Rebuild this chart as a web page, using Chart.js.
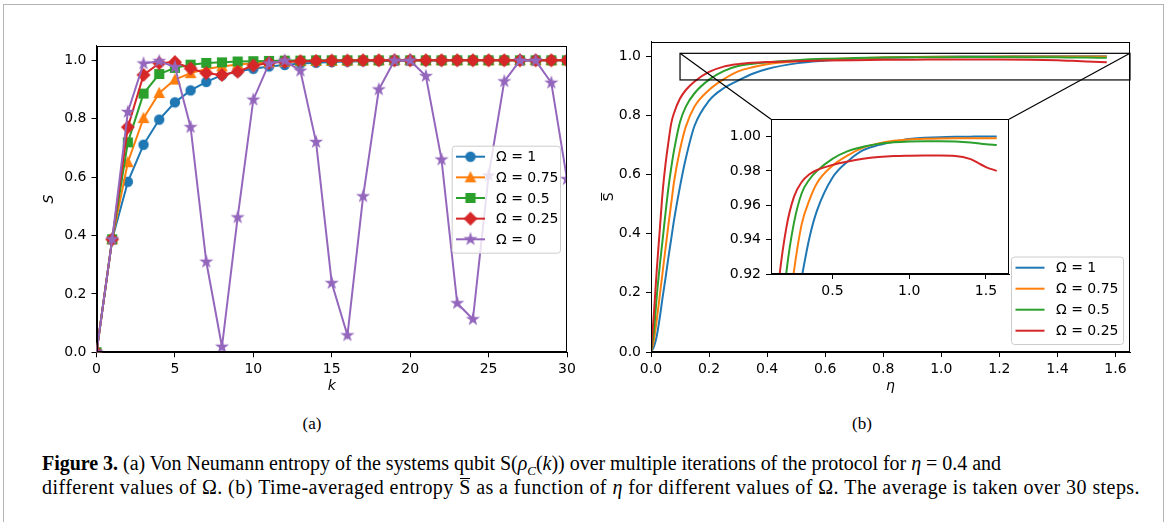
<!DOCTYPE html>
<html>
<head>
<meta charset="utf-8">
<script src="https://cdn.jsdelivr.net/npm/chart.js@4.4.1/dist/chart.umd.min.js"></script>
<style>
  html, body { margin: 0; padding: 0; background: #fff; }
  body { width: 1167px; height: 522px; position: relative; overflow: hidden; }
  #frame { position: absolute; left: 3px; top: 4px; width: 1159px; height: 560px; border: 1px solid #b4b4b4; }
  canvas { position: absolute; }
  #chartA { left: 30px; top: 30px; }
  #chartB { left: 600px; top: 20px; }
  #inset { left: 700px; top: 100px; }
  .sub { position: absolute; top: 414px; width: 40px; text-align: center; font-family: "Liberation Serif", serif; font-size: 17px; line-height: 20px; }
  .cap { position: absolute; left: 42px; font-family: "Liberation Serif", serif; font-size: 20px; line-height: 22px; white-space: nowrap; }
  .bar { position: relative; }
  .bar::before { content: ""; position: absolute; left: 1px; right: 1px; top: 2px; border-top: 1px solid #000; }
</style>
</head>
<body>
<div id="frame"></div>
<canvas id="chartA" width="560" height="380"></canvas>
<canvas id="chartB" width="560" height="390"></canvas>
<canvas id="inset" width="330" height="200"></canvas>
<div class="sub" style="left:292px">(a)</div>
<div class="sub" style="left:842px">(b)</div>
<div class="cap" id="cap1" style="top:452px"><b>Figure 3.</b> (a) Von Neumann entropy of the systems qubit S(<i>ρ</i><sub style="font-size:13px"><i>C</i></sub>(<i>k</i>)) over multiple iterations of the protocol for <i>η</i> = 0.4 and</div>
<div class="cap" id="cap2" style="top:476px">different values of Ω. (b) Time-averaged entropy <span class="bar">S</span> as a function of <i>η</i> for different values of Ω. The average is taken over 30 steps.</div>
<script>
// (a) entropia por iteração k, eta = 0.4
const kSteps = [0,1,2,3,4,5,6,7,8,9,10,11,12,13,14,15,16,17,18,19,20,21,22,23,24,25,26,27,28,29,30];
const S_om1   = [0,0.387,0.584,0.711,0.797,0.856,0.897,0.926,0.949,0.962,0.971,0.979,0.984,0.989,0.992,0.994,0.996,0.997,0.998,0.998,0.999,0.999,0.999,1,1,1,1,1,1,1,1];
const S_om075 = [0,0.387,0.651,0.802,0.888,0.934,0.956,0.970,0.979,0.986,0.990,0.993,0.995,0.997,0.998,0.998,0.999,0.999,1,1,1,1,1,1,1,1,1,1,1,1,1];
const S_om05  = [0,0.387,0.719,0.886,0.953,0.974,0.985,0.991,0.993,0.996,0.997,0.998,0.999,0.999,1,1,1,1,1,1,1,1,1,1,1,1,1,1,1,1,1];
const S_om025 = [0,0.387,0.771,0.950,0.990,0.994,0.972,0.956,0.950,0.961,0.982,0.991,0.995,0.997,0.998,0.999,0.999,1,1,1,1,1,1,1,1,1,1,1,1,1,1];
const S_om0   = [0,0.387,0.823,0.989,0.997,0.977,0.771,0.310,0.019,0.462,0.865,0.989,0.999,0.964,0.720,0.237,0.058,0.534,0.900,0.999,0.999,0.946,0.660,0.168,0.113,0.605,0.928,0.999,0.999,0.923,0.593];

// (b) entropia média em função de eta
const eta      = [0,0.01,0.02,0.03,0.04,0.05,0.06,0.07,0.08,0.1,0.12,0.15,0.2,0.25,0.3,0.35,0.4,0.5,0.6,0.7,0.8,0.9,1.0,1.1,1.2,1.3,1.4,1.45,1.5,1.57];
const Sb_om1   = [0,0.018,0.055,0.115,0.185,0.25,0.32,0.385,0.45,0.56,0.655,0.765,0.85,0.892,0.918,0.941,0.957,0.976,0.9855,0.992,0.995,0.997,0.9986,0.9992,0.9996,0.9998,0.9999,1,1,1];
const Sb_om075 = [0,0.04,0.11,0.19,0.27,0.35,0.43,0.505,0.58,0.685,0.762,0.83,0.886,0.922,0.949,0.963,0.973,0.983,0.989,0.9935,0.996,0.9975,0.9983,0.9987,0.9989,0.999,0.999,0.999,0.999,0.999];
const Sb_om05  = [0,0.07,0.19,0.29,0.379,0.47,0.555,0.625,0.685,0.778,0.83,0.875,0.921,0.95,0.967,0.975,0.98,0.987,0.9915,0.994,0.9957,0.9966,0.9971,0.9973,0.9973,0.9971,0.9965,0.996,0.9955,0.995];
const Sb_om025 = [0,0.13,0.28,0.41,0.54,0.635,0.71,0.775,0.81,0.857,0.886,0.915,0.947,0.965,0.9735,0.978,0.9805,0.9835,0.9855,0.987,0.988,0.9886,0.9888,0.9889,0.9889,0.9887,0.9868,0.9845,0.9822,0.98];

const yTicks = [0, 0.2, 0.4, 0.6, 0.8, 1.0];
const kTicks = [0, 5, 10, 15, 20, 25, 30];
const etaTicks = [0, 0.2, 0.4, 0.6, 0.8, 1.0, 1.2, 1.4, 1.6];
const insetYTicks = [0.92, 0.94, 0.96, 0.98, 1.00];
const insetXTicks = [0.5, 1.0, 1.5];

const labelsA = ['Ω = 1', 'Ω = 0.75', 'Ω = 0.5', 'Ω = 0.25', 'Ω = 0'];
const labelsB = ['Ω = 1', 'Ω = 0.75', 'Ω = 0.5', 'Ω = 0.25'];
const cores = ['#1f77b4', '#ff7f0e', '#2ca02c', '#d62728', '#9467bd'];
const FONT = 'DejaVu Sans';

// marcadores estilo matplotlib
function makeMarker(shape, color) {
  const c = document.createElement('canvas');
  c.width = 18; c.height = 18;
  const g = c.getContext('2d');
  g.fillStyle = color; g.strokeStyle = color; g.lineWidth = 1.4;
  g.translate(9, 9);
  g.beginPath();
  if (shape === 'circle') {
    g.arc(0, 0, 4.5, 0, Math.PI * 2);
  } else if (shape === 'triangle') {
    g.moveTo(0, -4.8); g.lineTo(4.7, 4.4); g.lineTo(-4.7, 4.4); g.closePath();
  } else if (shape === 'square') {
    g.rect(-4.4, -4.4, 8.8, 8.8);
  } else if (shape === 'diamond') {
    g.moveTo(0, -6); g.lineTo(6, 0); g.lineTo(0, 6); g.lineTo(-6, 0); g.closePath();
  } else if (shape === 'star') {
    for (let i = 0; i < 10; i++) {
      const r = i % 2 === 0 ? 5.2 : 2.0;
      const a = -Math.PI / 2 + i * Math.PI / 5;
      if (i === 0) g.moveTo(r * Math.cos(a), r * Math.sin(a));
      else g.lineTo(r * Math.cos(a), r * Math.sin(a));
    }
    g.closePath();
  }
  g.fill(); g.stroke();
  return c;
}
const marcadores = ['circle', 'triangle', 'square', 'diamond', 'star'].map((s, i) => makeMarker(s, cores[i]));

function pts(xs, ys) { return xs.map((x, i) => ({ x: x, y: ys[i] })); }

// moldura completa (matplotlib desenha os quatro lados)
const framePlugin = {
  id: 'frame',
  afterDatasetsDraw(chart) {
    const a = chart.chartArea, ctx = chart.ctx;
    ctx.save();
    ctx.strokeStyle = '#000'; ctx.lineWidth = 1;
    const l = Math.round(a.left) + 0.5, t = Math.round(a.top) + 0.5;
    const r = Math.round(a.right) - 0.5, b = Math.round(a.bottom) - 0.5;
    ctx.strokeRect(l, t, r - l, b - t);
    ctx.restore();
  }
};

// legenda dentro da área do gráfico
const legendPlugin = {
  id: 'boxLegend',
  afterDraw(chart, args, opts) {
    if (!opts.box) return;
    const ctx = chart.ctx, b = opts.box;
    ctx.save();
    ctx.beginPath();
    ctx.roundRect(b.x + 0.5, b.y + 0.5, b.w, b.h, 3);
    ctx.fillStyle = 'rgba(255,255,255,0.8)';
    ctx.fill();
    ctx.strokeStyle = '#cccccc'; ctx.lineWidth = 1;
    ctx.stroke();
    ctx.font = '14px "' + FONT + '"';
    ctx.textBaseline = 'middle';
    chart.data.datasets.forEach((ds, i) => {
      const y = b.row0 + i * b.step;
      ctx.strokeStyle = ds.borderColor; ctx.lineWidth = 2;
      ctx.beginPath(); ctx.moveTo(b.s0, y); ctx.lineTo(b.s1, y); ctx.stroke();
      if (opts.markers) {
        const m = opts.markers[i];
        ctx.drawImage(m, (b.s0 + b.s1) / 2 - m.width / 2, y - m.height / 2);
      }
      ctx.fillStyle = '#000';
      ctx.fillText(ds.label, b.tx, y + 1);
    });
    ctx.restore();
  }
};

// barra sobre o S do eixo y em (b)
const overbarPlugin = {
  id: 'overbar',
  afterDraw(chart) {
    const a = chart.chartArea, ctx = chart.ctx;
    const cy = (a.top + a.bottom) / 2;
    ctx.save();
    ctx.strokeStyle = '#000'; ctx.lineWidth = 1;
    ctx.beginPath();
    ctx.moveTo(1.5, cy - 4); ctx.lineTo(1.5, cy + 4);
    ctx.stroke();
    ctx.restore();
  }
};

function eixo(min, max, ticks, fmt, extra) {
  return Object.assign({
    type: 'linear', min: min, max: max,
    afterBuildTicks: s => { s.ticks = ticks.map(v => ({ value: v })); },
    ticks: { callback: v => fmt(v), color: '#000', padding: 4, font: { family: FONT, size: 14 } },
    grid: { display: true, drawOnChartArea: false, drawTicks: true, tickLength: 5, tickColor: '#000', tickWidth: 1 },
    border: { display: true, color: '#000', width: 1 }
  }, extra);
}

// ---------- (a) ----------
const serieA = [S_om1, S_om075, S_om05, S_om025, S_om0];
new Chart(document.getElementById('chartA').getContext('2d'), {
  type: 'line',
  data: {
    datasets: serieA.map((vals, i) => ({
      label: labelsA[i],
      data: pts(kSteps, vals),
      borderColor: cores[i], backgroundColor: cores[i],
      borderWidth: 2, pointStyle: marcadores[i], pointRadius: 4.5, pointHoverRadius: 4.5,
      order: 5 - i, clip: 0, tension: 0
    }))
  },
  options: {
    responsive: false, animation: false, events: [],
    layout: { padding: { left: 0, top: 15.7, right: 23, bottom: 0 } },
    scales: {
      x: eixo(0, 30, kTicks, v => String(v), {
        afterFit: s => { s.height = 57.7; },
        title: { display: true, text: 'k', color: '#000', font: { family: FONT, size: 14, style: 'italic' }, padding: { top: 0, bottom: 15.6 } }
      }),
      y: eixo(0, 1.05, yTicks, v => v.toFixed(1), {
        ticks: { callback: v => v.toFixed(1), color: '#000', padding: 5, font: { family: FONT, size: 14 } },
        afterFit: s => { s.width = 66.5; },
        title: { display: true, text: 'S', color: '#000', font: { family: FONT, size: 14, style: 'italic' }, padding: { top: 10.6, bottom: 0 } }
      })
    },
    plugins: {
      legend: { display: false }, tooltip: { enabled: false },
      boxLegend: { box: { x: 421.7, y: 115.7, w: 108.3, h: 107, row0: 126.7, step: 20.65, s0: 426, s1: 455, tx: 466 }, markers: marcadores }
    }
  },
  plugins: [framePlugin, legendPlugin]
});

// ---------- (b) inset ----------
const serieB = [Sb_om1, Sb_om075, Sb_om05, Sb_om025];
function datasetsB() {
  return serieB.map((vals, i) => ({
    label: labelsB[i],
    data: pts(eta, vals),
    borderColor: cores[i], backgroundColor: cores[i],
    borderWidth: 2, pointRadius: 0, order: 4 - i, clip: 0,
    cubicInterpolationMode: 'monotone'
  }));
}
const whiteBg = {
  id: 'whiteBg',
  beforeDatasetsDraw(chart) {
    const a = chart.chartArea, ctx = chart.ctx;
    ctx.save(); ctx.fillStyle = '#fff';
    ctx.fillRect(a.left, a.top, a.right - a.left, a.bottom - a.top);
    ctx.restore();
  }
};
const insetChart = new Chart(document.getElementById('inset').getContext('2d'), {
  type: 'line',
  data: { datasets: datasetsB() },
  options: {
    responsive: false, animation: false, events: [],
    layout: { padding: { left: 0, top: 19.3, right: 21, bottom: 0 } },
    scales: {
      x: eixo(0.1, 1.65, insetXTicks, v => v.toFixed(1), { afterFit: s => { s.height = 26; } }),
      y: eixo(0.92, 1.01, insetYTicks, v => v.toFixed(2), {
        ticks: { callback: v => v.toFixed(2), color: '#000', padding: 5, font: { family: FONT, size: 14 } },
        afterFit: s => { s.width = 71; }
      })
    },
    plugins: { legend: { display: false }, tooltip: { enabled: false } }
  },
  plugins: [whiteBg, framePlugin]
});

// ---------- (b) principal ----------
const insetOffset = { x: 700 - 600, y: 100 - 20 };
const zoomPlugin = {
  id: 'zoomBox',
  afterDatasetsDraw(chart) {
    const xs = chart.scales.x, ys = chart.scales.y, ctx = chart.ctx;
    const x0 = xs.getPixelForValue(0.1), x1 = xs.getPixelForValue(1.65);
    const y0 = ys.getPixelForValue(1.01), y1 = ys.getPixelForValue(0.92);
    const ia = insetChart.chartArea;
    ctx.save();
    ctx.strokeStyle = '#000'; ctx.lineWidth = 1.2;
    ctx.strokeRect(x0, y0, x1 - x0, y1 - y0);
    ctx.beginPath();
    ctx.moveTo(x0, y0); ctx.lineTo(ia.left + insetOffset.x, ia.top + insetOffset.y);
    ctx.moveTo(x1, y0); ctx.lineTo(ia.right + insetOffset.x, ia.top + insetOffset.y);
    ctx.stroke();
    ctx.restore();
  }
};
new Chart(document.getElementById('chartB').getContext('2d'), {
  type: 'line',
  data: { datasets: datasetsB() },
  options: {
    responsive: false, animation: false, events: [],
    layout: { padding: { left: 0, top: 21.5, right: 30, bottom: 0 } },
    scales: {
      x: eixo(0, 1.65, etaTicks, v => v.toFixed(1), {
        afterFit: s => { s.height = 58; },
        title: { display: true, text: 'η', color: '#000', font: { family: FONT, size: 14, style: 'italic' }, padding: { top: 0, bottom: 15.6 } }
      }),
      y: eixo(0, 1.05, yTicks, v => v.toFixed(1), {
        ticks: { callback: v => v.toFixed(1), color: '#000', padding: 5, font: { family: FONT, size: 14 } },
        afterFit: s => { s.width = 51; },
        title: { display: true, text: 'S', color: '#000', font: { family: FONT, size: 14 }, padding: { top: 0.5, bottom: 0 } }
      })
    },
    plugins: {
      legend: { display: false }, tooltip: { enabled: false },
      boxLegend: { box: { x: 411, y: 236.5, w: 112, h: 87.5, row0: 247.7, step: 21, s0: 415.5, s1: 444.5, tx: 456 } }
    }
  },
  plugins: [framePlugin, zoomPlugin, legendPlugin, overbarPlugin]
});

// ajusta a largura das linhas da legenda da figura
function fitLine(id, target) {
  const el = document.getElementById(id);
  const w = el.getBoundingClientRect().width;
  const n = el.textContent.length;
  el.style.letterSpacing = ((target - w) / n) + 'px';
}
fitLine('cap1', 959);
fitLine('cap2', 1098);
</script>
</body>
</html>
